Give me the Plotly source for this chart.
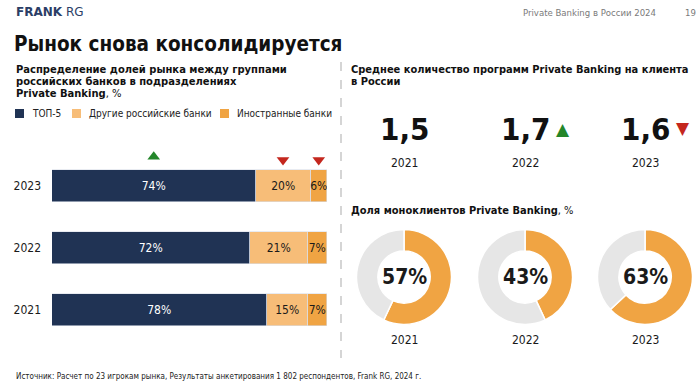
import plotly.graph_objects as go

# ---------------- data ----------------
years = ["2021", "2022", "2023"]
top5 = [78, 72, 74]
other_ru = [15, 21, 20]
foreign = [7, 7, 6]
series_names = ["ТОП-5", "Другие российские банки", "Иностранные банки"]
trend_2023 = ["up", "down", "down"]  # change markers above 2023 bar per segment

avg_programs = [1.5, 1.7, 1.6]
avg_labels = ["1,5", "1,7", "1,6"]
avg_trend = [None, "up", "down"]

mono_share = [57, 43, 63]

# ---------------- styles ----------------
W, H = 700, 383
NAVY = "#203354"
LIGHT = "#F7BD78"
ORANGE = "#F0A443"
GRAY = "#E6E6E6"
GREEN = "#23862A"
RED = "#C4271E"
FONT = "DejaVu Sans Condensed, DejaVu Sans, sans-serif"
colors = [NAVY, LIGHT, ORANGE]
text_colors = ["white", "#1a1a1a", "#1a1a1a"]


def px_x(x):
    return x / W


def px_y(y):
    return 1 - y / H


fig = go.Figure()

ypos = list(range(len(years)))

# ---------------- stacked bars ----------------
series = [top5, other_ru, foreign]
for name, vals, col, tcol in zip(series_names, series, colors, text_colors):
    fig.add_trace(go.Bar(
        y=ypos, x=vals, name=name, orientation="h",
        marker=dict(color=col, line=dict(color="#D8DEE8", width=0.6)),
        text=[f"{v}%" for v in vals], textposition="inside",
        insidetextanchor="middle", textangle=0, constraintext="none",
        textfont=dict(color=tcol, size=12, family=FONT),
        width=0.52, showlegend=False, hoverinfo="skip",
        xaxis="x", yaxis="y",
    ))

# trend markers above 2023 bar, centred on each segment
idx23 = years.index("2023")
cum = 0
mx, my, msym, mcol = [], [], [], []
for vals, tr in zip(series, trend_2023):
    v = vals[idx23]
    mx.append(cum + v / 2)
    cum += v
    my.append(idx23 + 0.47 if tr == "up" else idx23 + 0.42)
    msym.append("triangle-up" if tr == "up" else "triangle-down")
    mcol.append(GREEN if tr == "up" else RED)
fig.add_trace(go.Scatter(
    x=mx, y=my, mode="markers", xaxis="x", yaxis="y",
    marker=dict(symbol=msym, color=mcol, size=11, line=dict(width=0)),
    showlegend=False, hoverinfo="skip", cliponaxis=False,
))

# axes geometry: 2023 centre at 186px, step 62px
y_top_px, y_bot_px = 124, 341
fig.update_layout(
    xaxis=dict(domain=[px_x(52), px_x(327)], range=[0, 100], visible=False, fixedrange=True),
    yaxis=dict(domain=[px_y(y_bot_px), px_y(y_top_px)], range=[-0.5, 3.0],
               tickmode="array", tickvals=ypos, ticktext=years,
               showgrid=False, zeroline=False, showline=False, ticks="",
               tickfont=dict(size=12, family=FONT, color="#1a1a1a"),
               ticklabelstandoff=10, fixedrange=True),
    barmode="stack", bargap=0,
)

# ---------------- donuts ----------------
centers = [404, 525, 645]
cy = 277
R = 47.5
for c, v in zip(centers, mono_share):
    fig.add_trace(go.Pie(
        values=[v, 100 - v], marker=dict(colors=[ORANGE, GRAY], line=dict(color="white", width=1.5)),
        hole=0.55, sort=False, direction="clockwise", rotation=0,
        textinfo="none", hoverinfo="skip", showlegend=False,
        domain=dict(x=[px_x(c - R), px_x(c + R)], y=[px_y(cy + R), px_y(cy - R)]),
    ))

annotations = []
shapes = []


def txt(x, y, text, size, color="#1a1a1a", bold=False, xanchor="left", yanchor="middle", family=FONT):
    annotations.append(dict(
        x=px_x(x), y=px_y(y), xref="paper", yref="paper", showarrow=False,
        text=f"<b>{text}</b>" if bold else text, xanchor=xanchor, yanchor=yanchor,
        font=dict(size=size, color=color, family=family), align="left",
    ))


for c, v, yl in zip(centers, mono_share, years):
    txt(c, cy, f"{v}%", 21, bold=True, xanchor="center")
    txt(c, 340, yl, 12, xanchor="center")

# ---------------- big numbers ----------------
for c, lab, yl, tr in zip(centers, avg_labels, years, avg_trend):
    txt(c, 129, lab, 31, color="#111111", bold=True, xanchor="center")
    txt(c, 163, yl, 12, xanchor="center")
    if tr == "up":
        txt(c + 38, 129, "▲", 17, color=GREEN, xanchor="center", family="DejaVu Sans")
    elif tr == "down":
        txt(c + 38, 128, "▼", 17, color=RED, xanchor="center", family="DejaVu Sans")

# ---------------- header texts ----------------
annotations.append(dict(
    x=px_x(14), y=px_y(12), xref="paper", yref="paper", showarrow=False,
    text="<b>FRANK</b> RG", xanchor="left", yanchor="middle",
    font=dict(size=12, color="#2B3E66", family="DejaVu Sans, sans-serif"),
))
txt(658, 12, "Private Banking в России 2024", 9.5, color="#7a7a7a", xanchor="right")
txt(690, 12, "19", 9.5, color="#7a7a7a", xanchor="center")
txt(12, 44, "Рынок снова консолидируется", 20.5, color="#111111", bold=True)

sub_left = ["Распределение долей рынка между группами",
            "российских банков в подразделениях",
            "Private Banking<span style='font-weight:normal'>, %</span>"]
for i, line in enumerate(sub_left):
    txt(14, 69 + 12 * i, line, 11.1, color="#111111", bold=True)
sub_right = ["Среднее количество программ Private Banking на клиента", "в России"]
for i, line in enumerate(sub_right):
    txt(349, 69 + 13 * i, line, 11, color="#111111", bold=True)
txt(349, 210, "Доля моноклиентов Private Banking<span style='font-weight:normal'>, %</span>", 11, color="#111111", bold=True)

txt(14, 376, "Источник: Расчет по 23 игрокам рынка, Результаты анкетирования 1 802 респондентов, Frank RG, 2024 г.",
    8, color="#222222")

# ---------------- legend (manual) ----------------
legend_x = [15, 72, 220]
for lx, col, name in zip(legend_x, colors, series_names):
    shapes.append(dict(type="rect", xref="paper", yref="paper",
                       x0=px_x(lx), x1=px_x(lx + 9), y0=px_y(118), y1=px_y(109),
                       fillcolor=col, line=dict(width=0)))
    txt(lx + 15, 113.5, name, 10, color="#222222")

# dashed separator
shapes.append(dict(type="line", xref="paper", yref="paper",
                   x0=px_x(341), x1=px_x(341), y0=px_y(62), y1=px_y(358),
                   line=dict(color="#C8C8C8", width=1.5, dash="dash")))

fig.update_layout(
    width=W, height=H, margin=dict(l=0, r=0, t=0, b=0),
    paper_bgcolor="white", plot_bgcolor="white",
    annotations=annotations, shapes=shapes,
    font=dict(family=FONT),
)

fig.write_html("out.html", config={"displayModeBar": False},
               post_script="document.body.style.margin='0';")
